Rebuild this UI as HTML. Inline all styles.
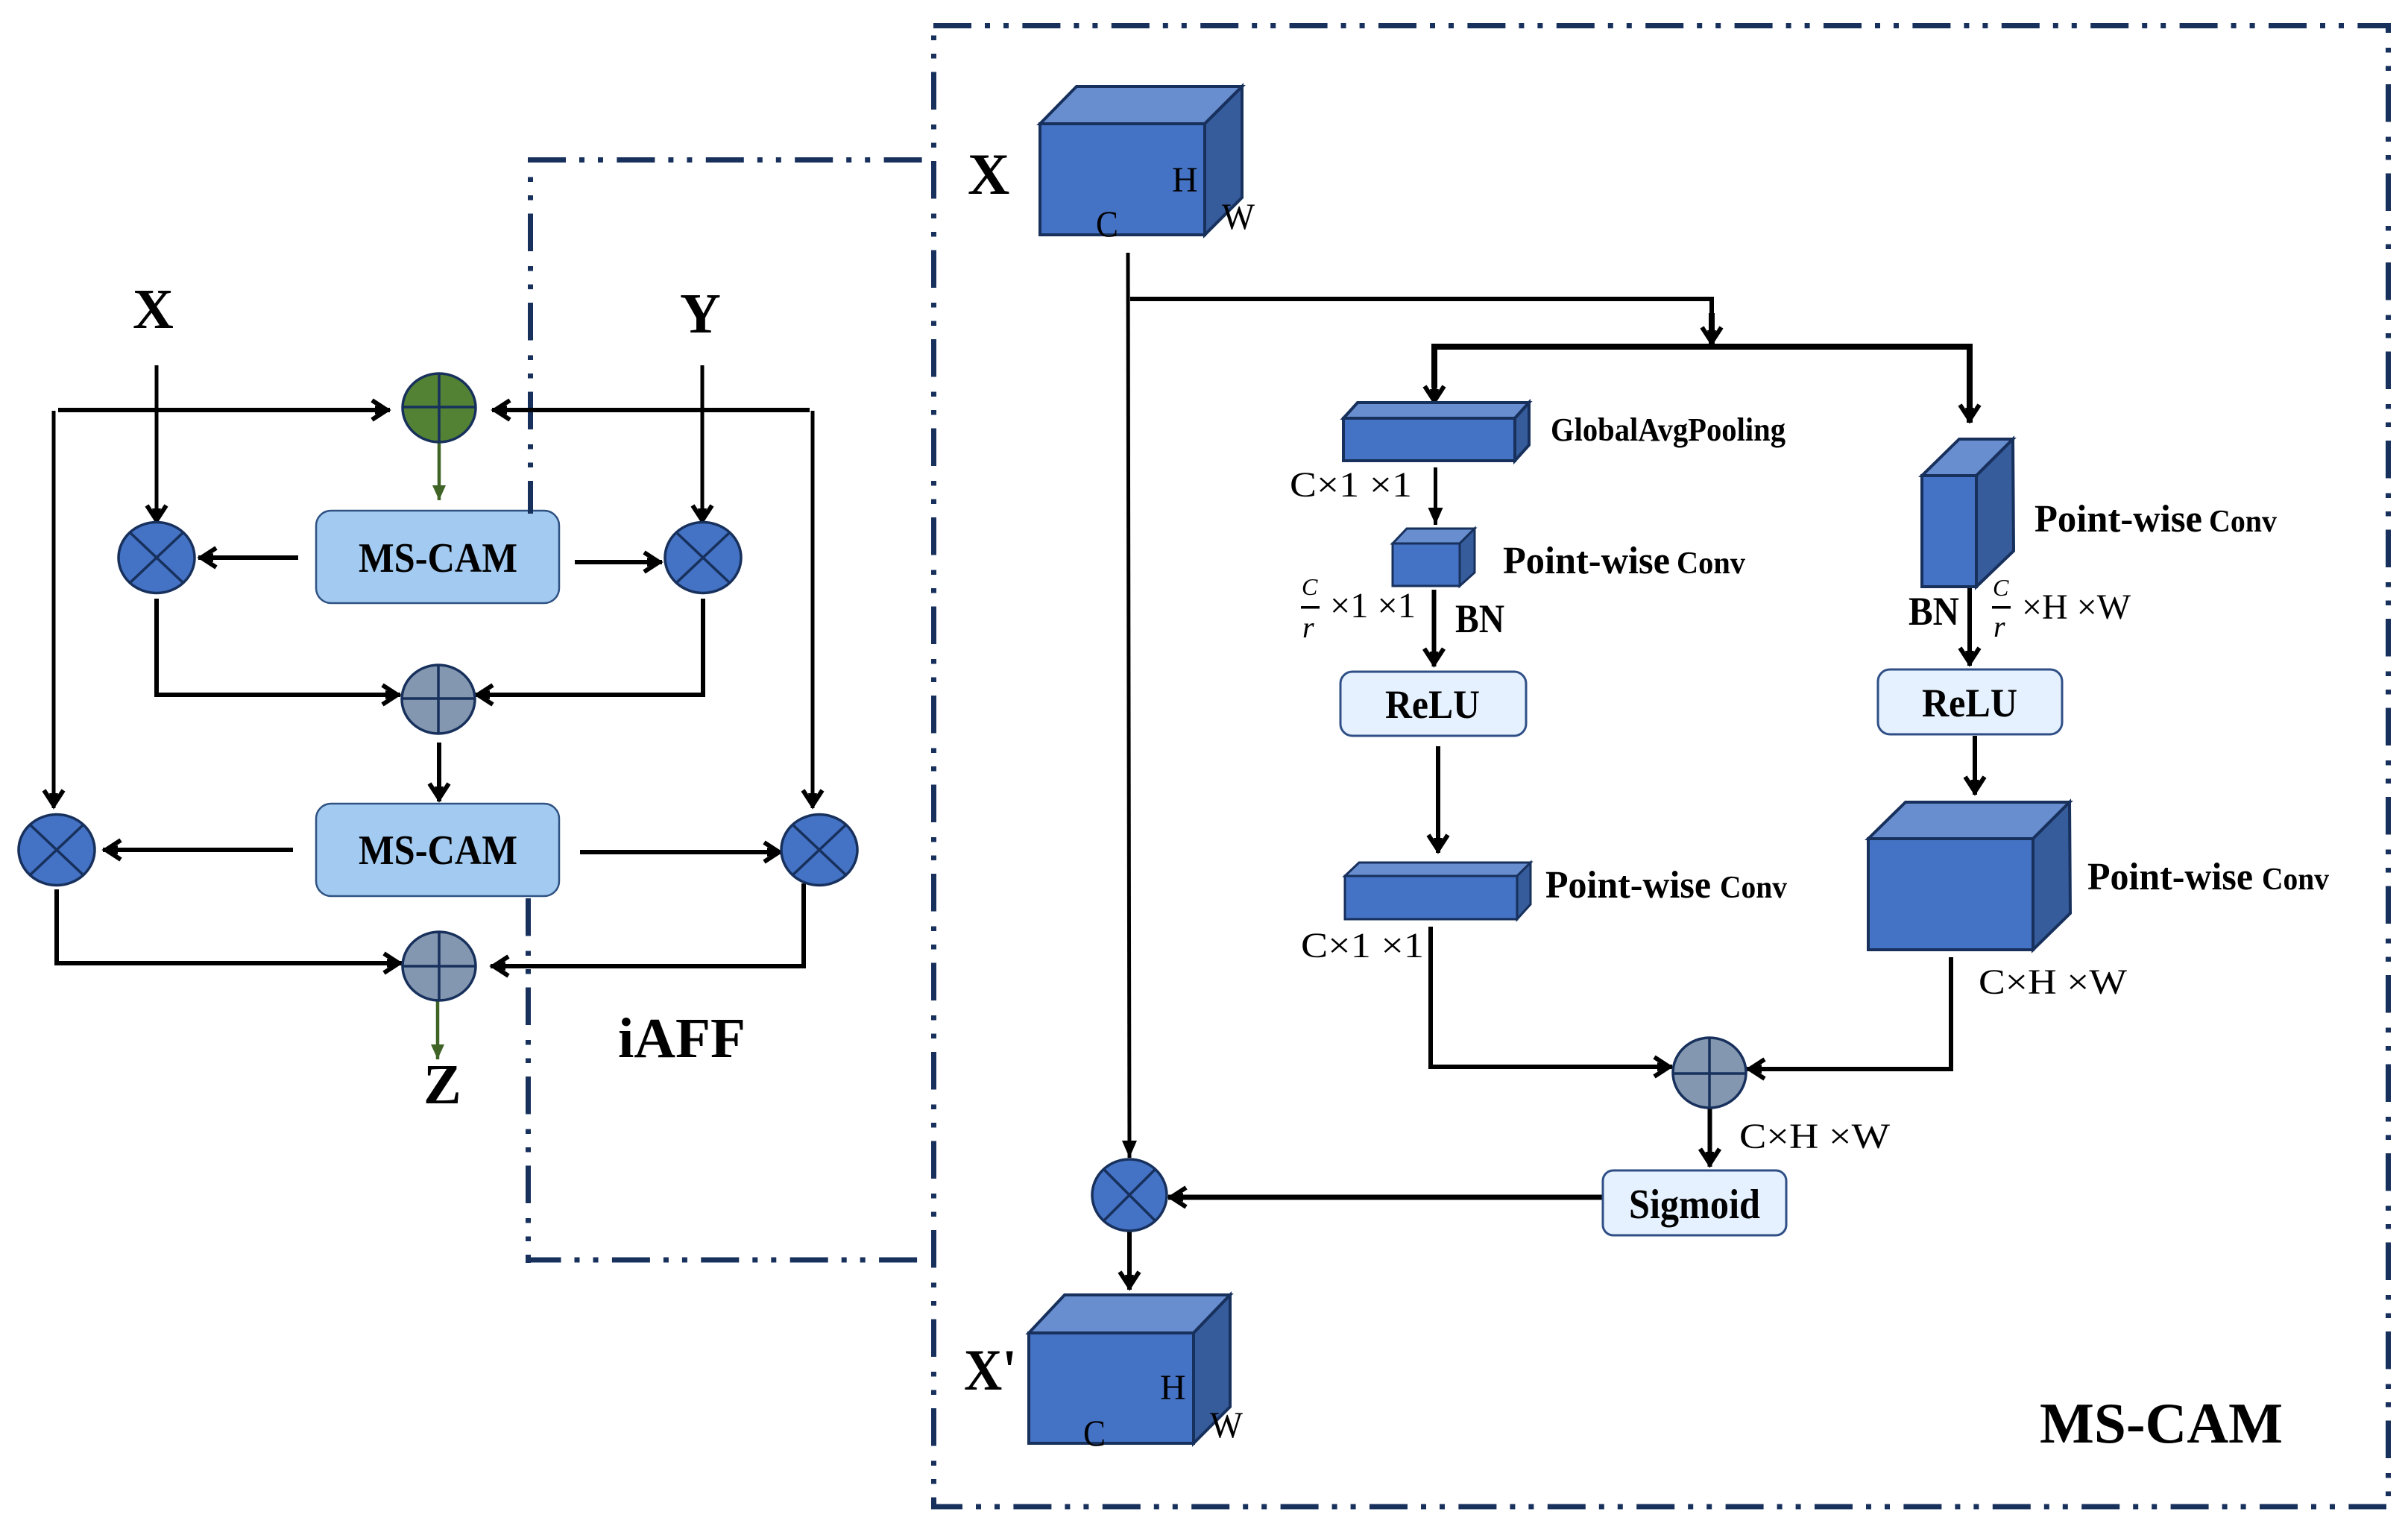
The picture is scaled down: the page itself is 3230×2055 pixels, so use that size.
<!DOCTYPE html>
<html lang="en">
<head>
<meta charset="utf-8">
<title>iAFF and MS-CAM</title>
<style>
html,body{margin:0;padding:0;background:#fff;}
svg{display:block;}
text{font-family:"Liberation Serif",serif;fill:#000;}
.b{font-weight:bold;}
.frame{fill:none;stroke:#17305C;stroke-width:7;stroke-dasharray:50.5 20 6.5 18 6.5 18;}
.frameh{fill:none;stroke:#17305C;stroke-width:7;stroke-dasharray:51 18 7 18 7 18.4;}
.c path,.c polygon,.c rect{stroke:#17305C;stroke-linejoin:miter;}
.front{fill:#4472C4;}.top{fill:#698ED0;}.side{fill:#365C9C;}
.ln{fill:none;stroke:#000;stroke-width:6;}
.ar{fill:none;stroke:#000;stroke-width:6;marker-end:url(#v);}
.th{fill:none;stroke:#000;stroke-width:5;marker-end:url(#t);}
.gr{fill:none;stroke:#3F6426;stroke-width:4.5;marker-end:url(#g);}
.op{stroke:#17305C;stroke-width:3.5;}
.x{fill:#4472C4;}.p{fill:#8497B0;}.gn{fill:#548235;}
.box{fill:#A3CAF0;stroke:#2F5283;stroke-width:2.5;}
.lb{fill:#E5F1FE;stroke:#2F4F86;stroke-width:3;}
</style>
</head>
<body>
<svg width="3230" height="2055" viewBox="0 0 3230 2055" xmlns="http://www.w3.org/2000/svg">
<defs>
<marker id="v" markerUnits="userSpaceOnUse" markerWidth="50" markerHeight="50" refX="22" refY="20" orient="auto" overflow="visible">
<path d="M-2,7 L18,20 L-2,33" fill="none" stroke="#000" stroke-width="6"/>
<path d="M2,14 L24,20 L2,26 Z" fill="#000"/>
</marker>
<marker id="t" markerUnits="userSpaceOnUse" markerWidth="40" markerHeight="40" refX="20" refY="20" orient="auto" overflow="visible">
<path d="M-3,10 L20,20 L-3,30 Z" fill="#000"/>
</marker>
<marker id="g" markerUnits="userSpaceOnUse" markerWidth="40" markerHeight="40" refX="20" refY="20" orient="auto" overflow="visible">
<path d="M0,11 L20,20 L0,29 Z" fill="#3F6426"/>
</marker>
</defs>
<rect width="3230" height="2055" fill="#fff"/>

<!-- frames -->
<path class="frameh" d="M1252,34.5 H3207"/>
<path class="frame" d="M1252.5,34 V2022" stroke-dashoffset="57"/>
<path class="frame" d="M3203.5,31 V2022" stroke-dashoffset="37.5"/>
<path class="frameh" d="M1249,2021 H3201" stroke-dashoffset="9"/>
<path class="frameh" d="M708,214.5 H1240"/>
<path class="frameh" d="M705,1690 H1235" stroke-dashoffset="3.5"/>

<!-- iAFF boxes -->
<rect class="box" x="424" y="685" width="326" height="124" rx="20"/>
<rect class="box" x="424" y="1078" width="326" height="124" rx="20"/>
<path class="frame" d="M711.5,211 V689" stroke-dashoffset="44"/>
<path class="frame" d="M708.5,1205 V1694"/>

<text class="b" x="481" y="767" font-size="56" textLength="213" lengthAdjust="spacingAndGlyphs">MS-CAM</text>
<text class="b" x="481" y="1159" font-size="56" textLength="213" lengthAdjust="spacingAndGlyphs">MS-CAM</text>

<!-- iAFF connectors -->
<path class="ar" d="M78,550 H523"/>
<path class="ar" d="M1086,550 H660"/>
<path class="ar" style="stroke-width:5" d="M210,490 V702"/>
<path class="ar" style="stroke-width:5" d="M942,490 V702"/>
<path class="ar" style="stroke-width:5" d="M72,551 V1084"/>
<path class="ar" style="stroke-width:5" d="M1090,551 V1084"/>
<path class="ar" d="M400,748 H266"/>
<path class="ar" d="M771,754 H888"/>
<path class="ar" d="M210,803 V932 H537"/>
<path class="ar" d="M943,803 V932 H637"/>
<path class="ar" d="M589,996 V1075"/>
<path class="ar" d="M393,1140 H138"/>
<path class="ar" d="M778,1143 H1049"/>
<path class="ar" d="M76,1193 V1292 H539"/>
<path class="ar" d="M1078,1185 V1296 H658"/>
<path class="gr" d="M589,592 V671"/>
<path class="gr" d="M587,1342 V1421"/>

<!-- iAFF operators -->
<g class="op">
<ellipse class="gn" cx="589" cy="547" rx="49" ry="46"/>
<path d="M540,546 H638 M589,501 V593"/>
<ellipse class="x" cx="210" cy="748" rx="51" ry="47.5"/>
<path d="M174,714 L246,782 M246,714 L174,782"/>
<ellipse class="x" cx="943" cy="748" rx="51" ry="47.5"/>
<path d="M907,714 L979,782 M979,714 L907,782"/>
<ellipse class="p" cx="588" cy="938" rx="49" ry="46"/>
<path d="M539,937 H637 M588,892 V984"/>
<ellipse class="x" cx="76" cy="1140" rx="51" ry="47.5"/>
<path d="M40,1106 L112,1174 M112,1106 L40,1174"/>
<ellipse class="x" cx="1099" cy="1140" rx="51" ry="47.5"/>
<path d="M1063,1106 L1135,1174 M1135,1106 L1063,1174"/>
<ellipse class="p" cx="589" cy="1296" rx="49" ry="46"/>
<path d="M540,1296 H638 M589,1250 V1342"/>
</g>

<text class="b" x="178" y="440" font-size="76">X</text>
<text class="b" x="912" y="446" font-size="76">Y</text>
<text class="b" x="568" y="1480" font-size="76">Z</text>
<text class="b" x="829" y="1418" font-size="76" textLength="171" lengthAdjust="spacingAndGlyphs">iAFF</text>

<!-- MS-CAM connectors -->
<path class="th" d="M1513,339 L1515,1553"/>
<path class="ln" d="M1516,401 H2296 V435"/>
<path class="ar" style="stroke-width:8" d="M2296,420 V463"/>
<path class="ln" style="stroke-width:8" d="M2646,465 H1924 V520"/>
<path class="ar" style="stroke-width:7" d="M1924,500 V542"/>
<path class="ar" style="stroke-width:8" d="M2642,465 V567"/>
<path class="th" d="M1925.5,627 V704"/>
<path class="ar" d="M1923.5,791 V894"/>
<path class="ar" d="M2642,787 V893"/>
<path class="ar" d="M1929,1001 V1144"/>
<path class="ar" d="M2649,987 V1066"/>
<path class="ar" d="M1919,1243 V1431 H2243"/>
<path class="ar" d="M2617,1284 V1434 H2343"/>
<path class="ar" d="M2293.5,1486 V1565"/>
<path class="ar" style="stroke-width:7" d="M2149,1606 H1567"/>
<path class="ar" d="M1515,1651 V1730"/>

<!-- Cuboids -->
<g class="c" stroke-width="4">
<polygon class="top" stroke-width="4" points="1395,166 1444,116 1666,116 1616,166"/>
<polygon class="side" stroke-width="4" points="1616,166 1666,116 1666,265 1616,315"/>
<rect class="front" stroke-width="4" x="1395" y="166" width="221" height="149"/>

<polygon class="top" stroke-width="4" points="1802,561 1821,540 2051,540 2032,561"/>
<polygon class="side" stroke-width="4" points="2032,561 2051,540 2051,597 2032,618"/>
<rect class="front" stroke-width="4" x="1802" y="561" width="230" height="57"/>

<polygon class="top" stroke-width="3" points="1868,729 1887,709 1978,709 1958,729"/>
<polygon class="side" stroke-width="3" points="1958,729 1978,709 1978,768 1958,786"/>
<rect class="front" stroke-width="3" x="1868" y="729" width="90" height="57"/>

<polygon class="top" stroke-width="3" points="1804,1175 1823,1157 2053,1157 2035,1175"/>
<polygon class="side" stroke-width="3" points="2035,1175 2053,1157 2053,1213 2035,1233"/>
<rect class="front" stroke-width="3" x="1804" y="1175" width="231" height="58"/>

<polygon class="top" stroke-width="4" points="2578,638 2628,589 2700,589 2651,638"/>
<polygon class="side" stroke-width="4" points="2651,638 2700,589 2701,739 2651,787"/>
<rect class="front" stroke-width="4" x="2578" y="638" width="73" height="149"/>

<polygon class="top" stroke-width="4" points="2506,1125 2556,1076 2776,1076 2727,1125"/>
<polygon class="side" stroke-width="4" points="2727,1125 2776,1076 2777,1225 2727,1274"/>
<rect class="front" stroke-width="4" x="2506" y="1125" width="221" height="149"/>

<polygon class="top" stroke-width="4" points="1380,1788 1428,1737 1650,1737 1601,1788"/>
<polygon class="side" stroke-width="4" points="1601,1788 1650,1737 1650,1887 1601,1936"/>
<rect class="front" stroke-width="4" x="1380" y="1788" width="221" height="148"/>
</g>

<!-- Labeled boxes -->
<rect class="lb" x="1798" y="901" width="249" height="86" rx="16"/>
<rect class="lb" x="2519" y="898" width="247" height="87" rx="16"/>
<rect class="lb" x="2150" y="1570" width="246" height="87" rx="14"/>
<text class="b" x="1858" y="963" font-size="54" textLength="127" lengthAdjust="spacingAndGlyphs">ReLU</text>
<text class="b" x="2578" y="961" font-size="54" textLength="128" lengthAdjust="spacingAndGlyphs">ReLU</text>
<text class="b" x="2185" y="1634" font-size="56" textLength="176" lengthAdjust="spacingAndGlyphs">Sigmoid</text>

<!-- operators MS-CAM -->
<g class="op">
<ellipse class="p" cx="2293" cy="1439" rx="49" ry="47"/>
<path d="M2244,1440 H2342 M2293,1392 V1486"/>
<ellipse class="x" cx="1515" cy="1603" rx="50" ry="48"/>
<path d="M1481,1569 L1549,1637 M1549,1569 L1481,1637"/>
</g>

<!-- MS-CAM labels -->
<text class="b" x="1298" y="260" font-size="78">X</text>
<text x="1572" y="257" font-size="48">H</text>
<text x="1470" y="317" font-size="50" textLength="30" lengthAdjust="spacingAndGlyphs">C</text>
<text x="1639" y="307" font-size="50" textLength="44" lengthAdjust="spacingAndGlyphs">W</text>

<text class="b" x="1293" y="1864" font-size="78" textLength="71" lengthAdjust="spacingAndGlyphs">X'</text>
<text x="1556" y="1877" font-size="48">H</text>
<text x="1453" y="1939" font-size="50" textLength="30" lengthAdjust="spacingAndGlyphs">C</text>
<text x="1623" y="1928" font-size="50" textLength="44" lengthAdjust="spacingAndGlyphs">W</text>

<text class="b" x="2736" y="1935" font-size="77" textLength="326" lengthAdjust="spacingAndGlyphs">MS-CAM</text>

<text class="b" x="2080" y="591" font-size="44" textLength="315" lengthAdjust="spacingAndGlyphs">GlobalAvgPooling</text>
<text x="1730" y="666" font-size="48" textLength="164" lengthAdjust="spacingAndGlyphs">C×1 ×1</text>

<text class="b" x="2016" y="769" font-size="52" textLength="224" lengthAdjust="spacingAndGlyphs">Point-wise</text>
<text class="b" x="2249" y="769" font-size="42" textLength="92" lengthAdjust="spacingAndGlyphs">Conv</text>

<text x="1746" y="798" font-size="32" font-style="italic">C</text>
<rect x="1745" y="813" width="25" height="3.5" fill="#000"/>
<text x="1747" y="855" font-size="40" font-style="italic">r</text>
<text x="1784" y="828" font-size="48" textLength="115" lengthAdjust="spacingAndGlyphs">×1 ×1</text>
<text class="b" x="1952" y="848" font-size="54" textLength="66" lengthAdjust="spacingAndGlyphs">BN</text>

<text class="b" x="2073" y="1204" font-size="52" textLength="222" lengthAdjust="spacingAndGlyphs">Point-wise</text>
<text class="b" x="2307" y="1204" font-size="42" textLength="90" lengthAdjust="spacingAndGlyphs">Conv</text>
<text x="1745" y="1284" font-size="48" textLength="165" lengthAdjust="spacingAndGlyphs">C×1 ×1</text>

<text class="b" x="2729" y="713" font-size="52" textLength="225" lengthAdjust="spacingAndGlyphs">Point-wise</text>
<text class="b" x="2963" y="713" font-size="42" textLength="91" lengthAdjust="spacingAndGlyphs">Conv</text>
<text class="b" x="2560" y="838" font-size="54" textLength="68" lengthAdjust="spacingAndGlyphs">BN</text>
<text x="2673" y="799" font-size="32" font-style="italic">C</text>
<rect x="2672" y="813" width="25" height="3.5" fill="#000"/>
<text x="2674" y="854" font-size="40" font-style="italic">r</text>
<text x="2712" y="830" font-size="48" textLength="146" lengthAdjust="spacingAndGlyphs">×H ×W</text>

<text class="b" x="2800" y="1193" font-size="52" textLength="222" lengthAdjust="spacingAndGlyphs">Point-wise</text>
<text class="b" x="3034" y="1193" font-size="42" textLength="90" lengthAdjust="spacingAndGlyphs">Conv</text>
<text x="2654" y="1333" font-size="48" textLength="199" lengthAdjust="spacingAndGlyphs">C×H ×W</text>
<text x="2333" y="1540" font-size="48" textLength="202" lengthAdjust="spacingAndGlyphs">C×H ×W</text>
</svg>
</body>
</html>
